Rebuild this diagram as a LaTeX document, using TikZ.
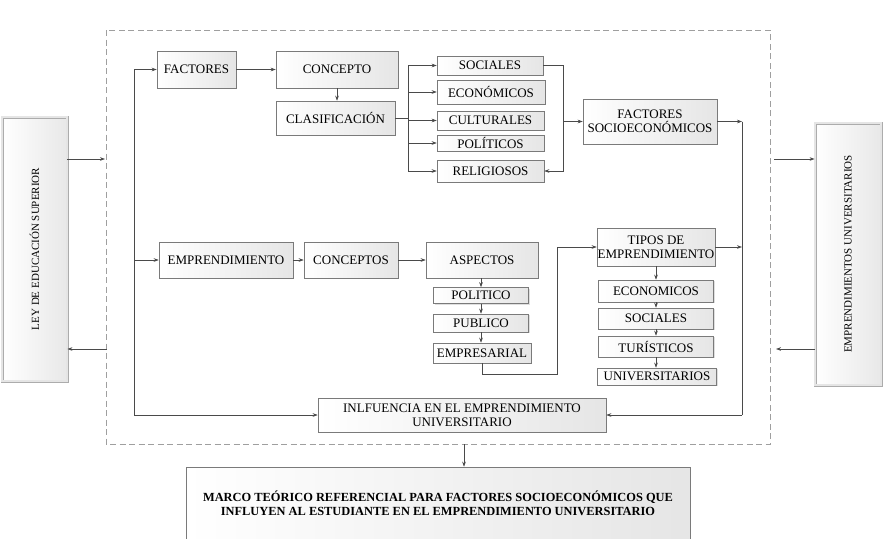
\documentclass[tikz,border=0pt]{standalone}
\usepackage{fontspec}
\setmainfont{Liberation Serif}
\usetikzlibrary{arrows.meta,shadows,calc}
\definecolor{lncol}{HTML}{4A4A4A}
\definecolor{bdcol}{HTML}{7A7A7A}
\begin{document}
\begin{tikzpicture}[x=1pt,y=-1pt,
  box/.style={draw=bdcol, line width=0.6pt, left color=white, right color=gray!20,
    drop shadow={shadow xshift=1.2pt, shadow yshift=-1.2pt, opacity=0.25},
    inner sep=0pt, align=center, font=\fontsize{13}{14}\selectfont},
  sidebox/.style={draw=gray!65, double=gray!20, double distance=1.2pt, line width=0.9pt,
    left color=white, right color=gray!18,
    drop shadow={shadow xshift=1.2pt, shadow yshift=-1.2pt, opacity=0.25}, inner sep=0pt},
  sidetext/.style={rotate=90, font=\fontsize{11}{13}\selectfont},
  ln/.style={draw=lncol, line width=0.6pt},
  arr/.style={ln, -{Stealth[length=5pt,width=3.6pt]}},
  dashrect/.style={draw=gray!75, line width=0.8pt, dash pattern=on 6pt off 3.5pt}
]
\useasboundingbox (0,0) rectangle (885,538);

% dashed frame
\draw[dashrect] (106,30) rectangle (770,444);

% side boxes
\node[sidebox, minimum width=65, minimum height=264] (ley) at (34.5,249) {};
\node[sidetext] (leyt) at (ley.center) {LEY DE EDUCACIÓN SUPERIOR};
\node[sidebox, minimum width=66, minimum height=262] (eu) at (848,254) {};
\node[sidetext] (eut) at (eu.center) {EMPRENDIMIENTOS UNIVERSITARIOS};

% upper branch
\node[box, minimum width=79, minimum height=37] (fac) at (196.5,69.5) {FACTORES};
\node[box, minimum width=122, minimum height=37] (con) at (337,69.5) {CONCEPTO};
\node[box, minimum width=119, minimum height=34] (cla) at (335.5,118) {CLASIFICACIÓN};
\node[box, minimum width=106, minimum height=19] (soc) at (490,65.5) {SOCIALES};
\node[box, minimum width=108, minimum height=24] (eco) at (491,92) {ECONÓMICOS};
\node[box, minimum width=107, minimum height=19] (cul) at (490.5,120.5) {CULTURALES};
\node[box, minimum width=107, minimum height=16] (pol) at (490.5,143) {POLÍTICOS};
\node[box, minimum width=107, minimum height=22] (rel) at (490.5,171) {RELIGIOSOS};
\node[box, minimum width=134, minimum height=45] (fse) at (650,121.5) {FACTORES\\SOCIOECONÓMICOS};

% lower branch
\node[box, minimum width=134, minimum height=36] (emp) at (226,260) {EMPRENDIMIENTO};
\node[box, minimum width=94, minimum height=36] (cons) at (351,260) {CONCEPTOS};
\node[box, minimum width=112, minimum height=36] (asp) at (482,260) {ASPECTOS};
\node[box, minimum width=95, minimum height=16] (apol) at (481,295.5) {POLITICO};
\node[box, minimum width=95, minimum height=18] (apub) at (481,323) {PUBLICO};
\node[box, minimum width=98, minimum height=20] (aemp) at (482,353) {EMPRESARIAL};
\node[box, minimum width=118, minimum height=38] (tip) at (656,247) {TIPOS DE\\EMPRENDIMIENTO};
\node[box, minimum width=115, minimum height=22] (teco) at (656,291) {ECONOMICOS};
\node[box, minimum width=115, minimum height=21] (tsoc) at (656,318.5) {SOCIALES};
\node[box, minimum width=115, minimum height=21] (ttur) at (656,346.5) {TURÍSTICOS};
\node[box, minimum width=119, minimum height=17] (tuni) at (657,376.5) {UNIVERSITARIOS};

\node[box, minimum width=288, minimum height=34] (inf) at (462,415) {INLFUENCIA EN EL EMPRENDIMIENTO\\UNIVERSITARIO};
\node[box, minimum width=504, minimum height=72, font=\bfseries\fontsize{12.4}{14}\selectfont] (marco) at (438,503)
  {MARCO TEÓRICO REFERENCIAL PARA FACTORES SOCIOECONÓMICOS QUE\\INFLUYEN AL ESTUDIANTE EN EL EMPRENDIMIENTO UNIVERSITARIO};

% coordinates
\coordinate (bl1) at (134,69.5);
\coordinate (bl3) at (134,415);
\coordinate (br1) at (742,121.5);
\coordinate (br3) at (742,415);
\coordinate (kl) at (408,118);
\coordinate (kr) at (563,121.5);
\coordinate (e1) at (557,374);
\coordinate (dl1) at (105,159);
\coordinate (dl2) at (107,349);
\coordinate (dr1) at (774,159);
\coordinate (dr2) at (776,349);
\coordinate (db) at (464,444);

% left bus
\draw[ln] (bl1) -- (bl3);
\draw[arr] (bl1) -- (fac.west);
\draw[arr] (bl1 |- emp.west) -- (emp.west);
\draw[arr] (bl3) -- (inf.west);

% right bus
\draw[arr] (fse.east) -- (br1);
\draw[ln] (br1) -- (br3);
\draw[arr] (br3) -- (inf.east);
\draw[arr] (tip.east) -- (br1 |- tip.east);

% upper flow
\draw[arr] (fac.east) -- (con.west);
\draw[arr] (con.south) -- (con.south |- cla.north);
\draw[ln] (cla.east) -- (kl);
\draw[ln] (kl |- soc.west) -- (kl |- rel.west);
\foreach \n in {soc,eco,cul,pol,rel} \draw[arr] (kl |- \n.west) -- (\n.west);
\draw[arr] (soc.east) -- (kr |- soc.east) -- (kr |- rel.east) -- (rel.east);
\draw[arr] (kr) -- (fse.west);

% lower flow
\draw[arr] (emp.east) -- (cons.west);
\draw[arr] (cons.east) -- (asp.west);
\draw[arr] (asp.south -| apol.north) -- (apol.north);
\draw[arr] (apol.south) -- (apub.north);
\draw[arr] (apub.south) -- (apub.south |- aemp.north);
\draw[arr] (aemp.south) -- (aemp.south |- e1) -- (e1) -- (e1 |- tip.west) -- (tip.west);
\draw[arr] (tip.south) -- (tip.south |- teco.north);
\draw[arr] (teco.south) -- (tsoc.north);
\draw[arr] (tsoc.south) -- (ttur.north);
\draw[arr] (ttur.south) -- (ttur.south |- tuni.north);

% outer connections
\draw[arr] (ley.east |- dl1) -- (dl1);
\draw[arr] (dl2) -- (ley.east |- dl2);
\draw[arr] (dr1) -- (eu.west |- dr1);
\draw[arr] (eu.west |- dr2) -- (dr2);
\draw[arr] (db) -- (db |- marco.north);
\end{tikzpicture}
\end{document}
